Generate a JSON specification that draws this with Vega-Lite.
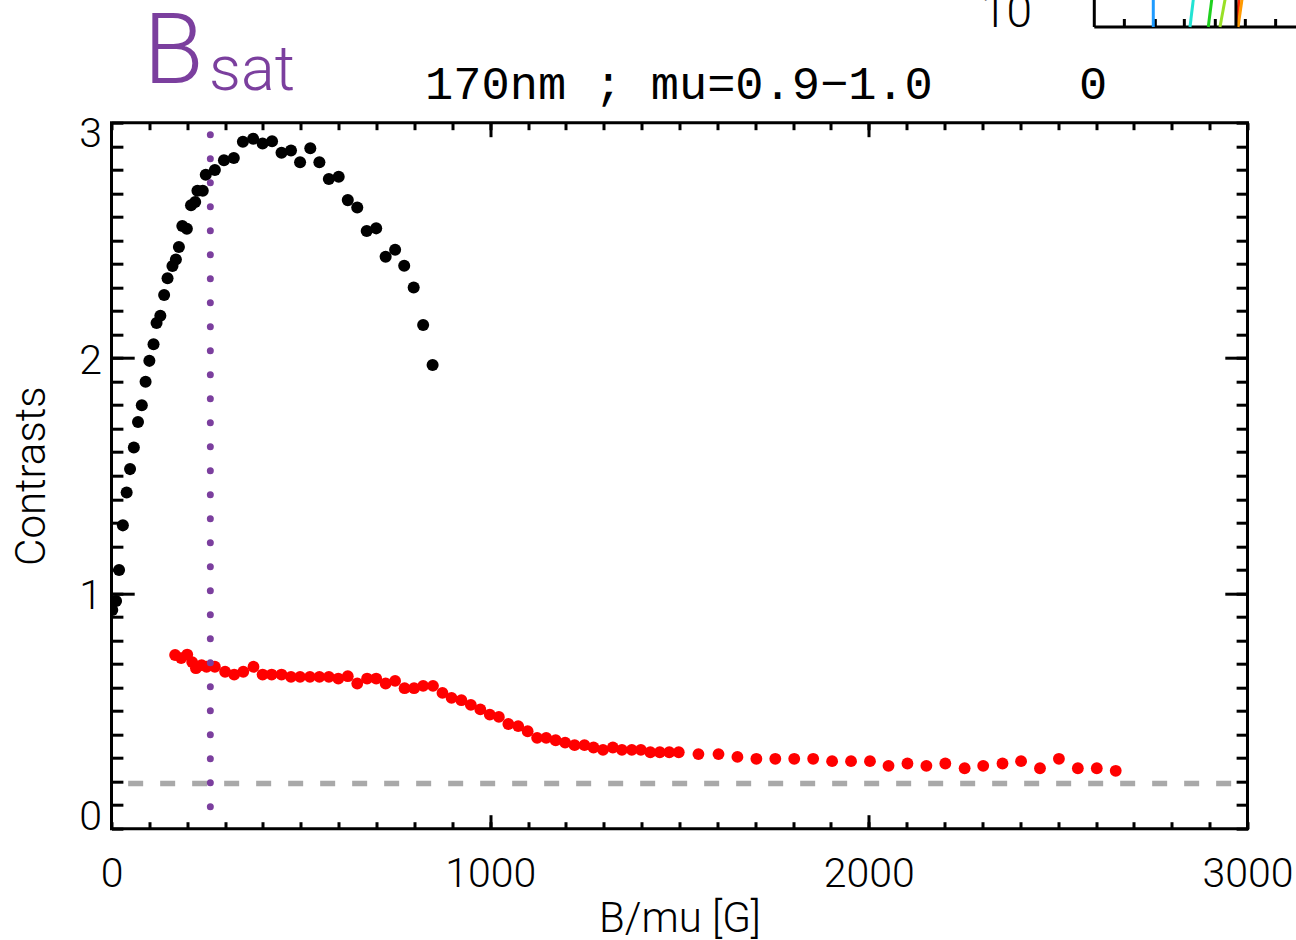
{
  "$schema": "https://vega.github.io/schema/vega-lite/v6.json",
  "width": 1136,
  "height": 706,
  "autosize": {"type": "none"},
  "padding": {"left": 111.5, "top": 122.7, "right": 48.5, "bottom": 111.3},
  "background": "white",
  "config": {
    "view": {"stroke": "black", "strokeWidth": 3},
    "axis": {
      "domain": false, "grid": false, "tickColor": "black", "tickWidth": 3,
      "labelFlush": false, "labelOverlap": false, "labelBound": false,
      "labelFont": "Roboto", "labelFontWeight": 300, "labelFontSize": 41, "labelColor": "black",
      "titleFont": "Roboto", "titleFontWeight": 300, "titleFontSize": 42, "titleColor": "black"
    }
  },
  "datasets": {
    "black": [
      {"B": 2, "C": 0.929}, {"B": 12, "C": 0.968}, {"B": 20, "C": 1.099}, {"B": 30, "C": 1.289},
      {"B": 40, "C": 1.429}, {"B": 49, "C": 1.528}, {"B": 59, "C": 1.62}, {"B": 70, "C": 1.728},
      {"B": 80, "C": 1.799}, {"B": 90, "C": 1.899}, {"B": 100, "C": 1.988}, {"B": 111, "C": 2.059},
      {"B": 119, "C": 2.149}, {"B": 129, "C": 2.18}, {"B": 139, "C": 2.268}, {"B": 148, "C": 2.339},
      {"B": 161, "C": 2.391}, {"B": 170, "C": 2.419}, {"B": 178, "C": 2.472}, {"B": 187, "C": 2.561},
      {"B": 199, "C": 2.549}, {"B": 210, "C": 2.649}, {"B": 221, "C": 2.663}, {"B": 227, "C": 2.711},
      {"B": 241, "C": 2.711}, {"B": 249, "C": 2.779}, {"B": 273, "C": 2.799}, {"B": 297, "C": 2.84},
      {"B": 323, "C": 2.85}, {"B": 347, "C": 2.919}, {"B": 374, "C": 2.932}, {"B": 399, "C": 2.912},
      {"B": 424, "C": 2.921}, {"B": 449, "C": 2.872}, {"B": 474, "C": 2.882}, {"B": 498, "C": 2.832},
      {"B": 525, "C": 2.891}, {"B": 549, "C": 2.832}, {"B": 574, "C": 2.761}, {"B": 600, "C": 2.77},
      {"B": 624, "C": 2.671}, {"B": 649, "C": 2.64}, {"B": 674, "C": 2.54}, {"B": 699, "C": 2.551},
      {"B": 724, "C": 2.43}, {"B": 749, "C": 2.46}, {"B": 773, "C": 2.392}, {"B": 798, "C": 2.3},
      {"B": 823, "C": 2.14}, {"B": 848, "C": 1.97}
    ],
    "red": [
      {"B": 168, "C": 0.738}, {"B": 184, "C": 0.725}, {"B": 200, "C": 0.74}, {"B": 213, "C": 0.708},
      {"B": 223, "C": 0.682}, {"B": 238, "C": 0.695}, {"B": 251, "C": 0.688}, {"B": 273, "C": 0.688},
      {"B": 300, "C": 0.667}, {"B": 324, "C": 0.655}, {"B": 348, "C": 0.667}, {"B": 375, "C": 0.688},
      {"B": 399, "C": 0.655}, {"B": 423, "C": 0.655}, {"B": 449, "C": 0.655}, {"B": 474, "C": 0.645},
      {"B": 498, "C": 0.645}, {"B": 524, "C": 0.645}, {"B": 549, "C": 0.645}, {"B": 574, "C": 0.645},
      {"B": 599, "C": 0.638}, {"B": 624, "C": 0.648}, {"B": 649, "C": 0.617}, {"B": 675, "C": 0.638},
      {"B": 699, "C": 0.638}, {"B": 724, "C": 0.617}, {"B": 749, "C": 0.628}, {"B": 774, "C": 0.597},
      {"B": 799, "C": 0.597}, {"B": 823, "C": 0.607}, {"B": 849, "C": 0.607}, {"B": 874, "C": 0.577},
      {"B": 898, "C": 0.556}, {"B": 924, "C": 0.546}, {"B": 949, "C": 0.526}, {"B": 974, "C": 0.507},
      {"B": 999, "C": 0.485}, {"B": 1023, "C": 0.475}, {"B": 1048, "C": 0.445}, {"B": 1074, "C": 0.436},
      {"B": 1099, "C": 0.414}, {"B": 1124, "C": 0.386}, {"B": 1148, "C": 0.386}, {"B": 1173, "C": 0.376},
      {"B": 1198, "C": 0.366}, {"B": 1223, "C": 0.355}, {"B": 1249, "C": 0.355}, {"B": 1273, "C": 0.345},
      {"B": 1298, "C": 0.335}, {"B": 1324, "C": 0.345}, {"B": 1348, "C": 0.335}, {"B": 1374, "C": 0.335},
      {"B": 1398, "C": 0.335}, {"B": 1423, "C": 0.325}, {"B": 1448, "C": 0.325}, {"B": 1473, "C": 0.325},
      {"B": 1498, "C": 0.325}, {"B": 1550, "C": 0.317}, {"B": 1603, "C": 0.317}, {"B": 1653, "C": 0.305},
      {"B": 1703, "C": 0.297}, {"B": 1753, "C": 0.297}, {"B": 1803, "C": 0.297}, {"B": 1853, "C": 0.297},
      {"B": 1903, "C": 0.287}, {"B": 1953, "C": 0.287}, {"B": 2003, "C": 0.287}, {"B": 2052, "C": 0.267},
      {"B": 2102, "C": 0.277}, {"B": 2152, "C": 0.267}, {"B": 2202, "C": 0.277}, {"B": 2253, "C": 0.257},
      {"B": 2302, "C": 0.267}, {"B": 2353, "C": 0.277}, {"B": 2402, "C": 0.287}, {"B": 2452, "C": 0.257},
      {"B": 2502, "C": 0.297}, {"B": 2552, "C": 0.257}, {"B": 2602, "C": 0.257}, {"B": 2652, "C": 0.246}
    ],
    "dash": [{"x": 44, "x2": 3000, "y": 0.192}],
    "bsat": [{"x": 261, "y": 0.093, "y2": 2.956}],
    "title": [{"t": "170nm ; mu=0.9−1.0", "x": 1498.5, "y": 3.1}, {"t": "0", "x": 2592, "y": 3.1}],
    "bigB": [{"t": "B", "x": 84.5, "y": 3.167}],
    "sub": [{"t": "sat", "x": 257.5, "y": 3.139}],
    "ten": [{"t": "10", "x": 2431, "y": 3.4067}],
    "inset": [
      {"x": 2595.4, "x2": 2595.4, "y": 3.4067, "y2": 3.53, "s": "axis"},
      {"x": 2595.4, "x2": 3130, "y": 3.4067, "y2": 3.4067, "s": "axis"},
      {"x": 2674.8, "x2": 2674.8, "y": 3.4067, "y2": 3.4407, "s": "axis"},
      {"x": 2756.6, "x2": 2756.6, "y": 3.4067, "y2": 3.4407, "s": "axis"},
      {"x": 2833.2, "x2": 2833.2, "y": 3.4067, "y2": 3.4407, "s": "axis"},
      {"x": 2915.0, "x2": 2915.0, "y": 3.4067, "y2": 3.4407, "s": "axis"},
      {"x": 2994.3, "x2": 2994.3, "y": 3.4067, "y2": 3.4407, "s": "axis"},
      {"x": 3074.3, "x2": 3074.3, "y": 3.4067, "y2": 3.4407, "s": "axis"},
      {"x": 2751.2, "x2": 2751.2, "y": 3.4067, "y2": 3.53, "s": "blue"},
      {"x": 2848.1, "x2": 2857.4, "y": 3.4067, "y2": 3.53, "s": "cyan"},
      {"x": 2896.4, "x2": 2906.1, "y": 3.4067, "y2": 3.53, "s": "green"},
      {"x": 2927.3, "x2": 2941.5, "y": 3.4067, "y2": 3.53, "s": "yellowgreen"},
      {"x": 2972, "x2": 2978, "y": 3.4067, "y2": 3.53, "s": "red"},
      {"x": 2975, "x2": 2986, "y": 3.4067, "y2": 3.53, "s": "orange"},
      {"x": 2969.5, "x2": 2969.5, "y": 3.4067, "y2": 3.53, "s": "axis"}
    ]
  },
  "layer": [
    {
      "data": {"name": "dash"},
      "mark": {"type": "rule", "color": "#a9a9a9", "strokeWidth": 5.5, "strokeDash": [15, 17]},
      "encoding": {
        "x": {"field": "x", "type": "quantitative", "scale": {"domain": [0, 3000], "nice": false},
          "axis": {"orient": "bottom", "values": [0, 1000, 2000, 3000], "format": "d", "ticks": false, "labelPadding": 26, "title": "B/mu [G]", "titlePadding": 4}},
        "x2": {"field": "x2"},
        "y": {"field": "y", "type": "quantitative", "scale": {"domain": [0, 3], "nice": false},
          "axis": {"orient": "left", "values": [0, 1, 2, 3], "format": "d", "ticks": false, "labelPadding": 10,
            "labelOffset": {"condition": [{"test": "datum.value == 0", "value": -11}, {"test": "datum.value == 3", "value": 12}], "value": 3},
            "title": "Contrasts", "titlePadding": 25}}
      }
    },
    {
      "data": {"name": "black"},
      "mark": {"type": "circle", "color": "black", "opacity": 1, "size": 145, "clip": true},
      "encoding": {
        "x": {"field": "B", "type": "quantitative", "scale": {"domain": [0, 3000], "nice": false},
          "axis": {"orient": "bottom", "labels": false, "tickSize": -7, "title": null,
            "values": [0,100,200,300,400,500,600,700,800,900,1000,1100,1200,1300,1400,1500,1600,1700,1800,1900,2000,2100,2200,2300,2400,2500,2600,2700,2800,2900,3000]}},
        "y": {"field": "C", "type": "quantitative", "scale": {"domain": [0, 3], "nice": false},
          "axis": {"orient": "left", "labels": false, "tickSize": -11.4, "title": null,
            "values": [0,0.1,0.2,0.3,0.4,0.5,0.6,0.7,0.8,0.9,1,1.1,1.2,1.3,1.4,1.5,1.6,1.7,1.8,1.9,2,2.1,2.2,2.3,2.4,2.5,2.6,2.7,2.8,2.9,3]}}
      }
    },
    {
      "data": {"name": "red"},
      "mark": {"type": "circle", "color": "#ff0000", "opacity": 1, "size": 140},
      "encoding": {
        "x": {"field": "B", "type": "quantitative", "scale": {"domain": [0, 3000], "nice": false},
          "axis": {"orient": "bottom", "labels": false, "tickSize": -14, "title": null, "values": [1000, 2000]}},
        "y": {"field": "C", "type": "quantitative", "scale": {"domain": [0, 3], "nice": false},
          "axis": {"orient": "left", "labels": false, "tickSize": -22.7, "title": null, "values": [1, 2]}}
      }
    },
    {
      "data": {"name": "bsat"},
      "mark": {"type": "rule", "color": "#7b3f9e", "strokeWidth": 7, "strokeCap": "round", "strokeDash": [0, 24]},
      "encoding": {
        "x": {"field": "x", "type": "quantitative", "scale": {"domain": [0, 3000], "nice": false},
          "axis": {"orient": "top", "labels": false, "tickSize": -7, "title": null,
            "values": [0,100,200,300,400,500,600,700,800,900,1000,1100,1200,1300,1400,1500,1600,1700,1800,1900,2000,2100,2200,2300,2400,2500,2600,2700,2800,2900,3000]}},
        "y": {"field": "y", "type": "quantitative", "scale": {"domain": [0, 3], "nice": false},
          "axis": {"orient": "right", "labels": false, "tickSize": -11.4, "title": null,
            "values": [0,0.1,0.2,0.3,0.4,0.5,0.6,0.7,0.8,0.9,1,1.1,1.2,1.3,1.4,1.5,1.6,1.7,1.8,1.9,2,2.1,2.2,2.3,2.4,2.5,2.6,2.7,2.8,2.9,3]}},
        "y2": {"field": "y2"}
      }
    },
    {
      "data": {"name": "bigB"},
      "mark": {"type": "text", "color": "#7b3f9e", "font": "Roboto", "fontWeight": 300, "fontSize": 98, "align": "left", "baseline": "alphabetic"},
      "encoding": {
        "x": {"field": "x", "type": "quantitative", "scale": {"domain": [0, 3000], "nice": false},
          "axis": {"orient": "top", "labels": false, "tickSize": -14, "title": null, "values": [1000, 2000]}},
        "y": {"field": "y", "type": "quantitative", "scale": {"domain": [0, 3], "nice": false},
          "axis": {"orient": "right", "labels": false, "tickSize": -22.7, "title": null, "values": [1, 2]}},
        "text": {"field": "t"}
      }
    },
    {
      "data": {"name": "sub"},
      "mark": {"type": "text", "color": "#7b3f9e", "font": "Roboto", "fontWeight": 300, "fontSize": 63, "align": "left", "baseline": "alphabetic"},
      "encoding": {
        "x": {"field": "x", "type": "quantitative", "scale": {"domain": [0, 3000], "nice": false}, "axis": null},
        "y": {"field": "y", "type": "quantitative", "scale": {"domain": [0, 3], "nice": false}, "axis": null},
        "text": {"field": "t"}
      }
    },
    {
      "data": {"name": "title"},
      "mark": {"type": "text", "color": "black", "font": "Liberation Mono", "fontSize": 47, "align": "center", "baseline": "alphabetic"},
      "encoding": {
        "x": {"field": "x", "type": "quantitative", "scale": {"domain": [0, 3000], "nice": false}, "axis": null},
        "y": {"field": "y", "type": "quantitative", "scale": {"domain": [0, 3], "nice": false}, "axis": null},
        "text": {"field": "t"}
      }
    },
    {
      "data": {"name": "ten"},
      "mark": {"type": "text", "color": "black", "font": "Roboto", "fontWeight": 300, "fontSize": 46, "align": "right", "baseline": "alphabetic"},
      "encoding": {
        "x": {"field": "x", "type": "quantitative", "scale": {"domain": [0, 3000], "nice": false}, "axis": null},
        "y": {"field": "y", "type": "quantitative", "scale": {"domain": [0, 3], "nice": false}, "axis": null},
        "text": {"field": "t"}
      }
    },
    {
      "data": {"name": "inset"},
      "mark": {"type": "rule", "strokeWidth": 3},
      "encoding": {
        "x": {"field": "x", "type": "quantitative", "scale": {"domain": [0, 3000], "nice": false}, "axis": null},
        "x2": {"field": "x2"},
        "y": {"field": "y", "type": "quantitative", "scale": {"domain": [0, 3], "nice": false}, "axis": null},
        "y2": {"field": "y2"},
        "color": {"field": "s", "type": "nominal", "legend": null,
          "scale": {"domain": ["axis", "blue", "cyan", "green", "yellowgreen", "red", "orange"],
            "range": ["#000000", "#1f9bff", "#22e3d3", "#1fd11f", "#99e026", "#ff2a00", "#ff9a00"]}}
      }
    }
  ],
  "resolve": {"axis": {"x": "independent", "y": "independent"}}
}
